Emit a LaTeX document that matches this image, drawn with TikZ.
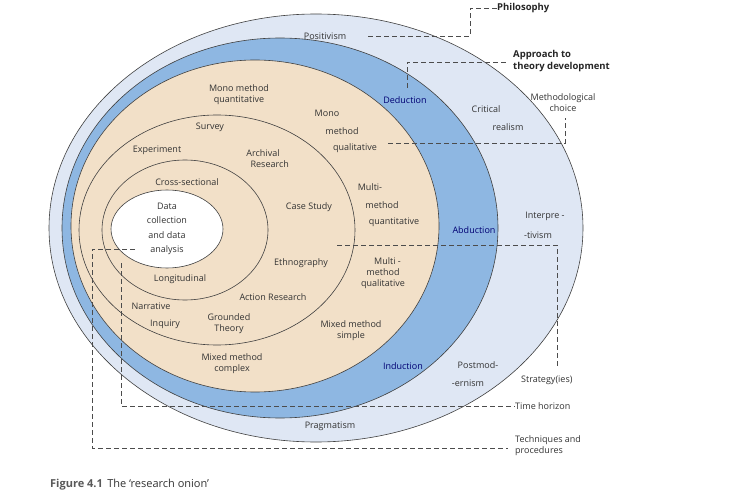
\documentclass[tikz,border=0pt]{standalone}
\usepackage{fontspec}
\setmainfont{Open Sans}
\begin{document}
\begin{tikzpicture}[x=1pt,y=-1pt,
  lbl/.style={font=\fontsize{9}{11}\selectfont, text=black!80, align=center, inner sep=0pt},
  blu/.style={lbl, text=blue!45!black},
  hd/.style={font=\bfseries\fontsize{9.5}{12}\selectfont, text=black!85, align=left, inner sep=0pt, anchor=west},
  side/.style={lbl, align=left, anchor=west},
  ring/.style={draw=black!75, line width=0.6pt},
  dl/.style={draw=black!70, dashed, dash pattern=on 5pt off 3pt, line width=0.6pt}]
\useasboundingbox (0,0) rectangle (753,500);
\definecolor{outerc}{HTML}{DFE7F4}
\definecolor{bluec}{HTML}{8EB7E2}
\definecolor{beigec}{HTML}{F2E0C8}
\fill[white] (0,0) rectangle (753,500);
\path[ring, fill=outerc] (316,228) ellipse [x radius=267, y radius=214];
\path[ring, fill=bluec] (280,228) ellipse [x radius=218, y radius=190];
\path[ring, fill=beigec] (255,226) ellipse [x radius=184, y radius=166];
\path[ring] (217,230) ellipse [x radius=138, y radius=115];
\path[ring] (185,230) ellipse [x radius=83, y radius=70];
\path[ring, fill=white] (167,229) ellipse [x radius=56, y radius=39];

% labels
\node[lbl] (pos) at (325,36) {Positivism};
\node[blu] (ded) at (405,100) {Deduction};
\node[lbl] (cr1) at (486,109) {Critical};
\node[lbl] (cr2) at (508,127) {realism};
\node[lbl] (mc) at (563,103) {Methodological\\choice};
\node[lbl] (mmq) at (239,95) {Mono method\\quantitative};
\node[lbl] (mq1) at (327,113) {Mono};
\node[lbl] (mq2) at (342,131) {method};
\node[lbl] (mq3) at (355,148) {qualitative};
\node[lbl] (sur) at (210,127) {Survey};
\node[lbl] (exp) at (157,150) {Experiment};
\node[lbl] (arc) at (263,159) {Archival\\\hspace*{1.5em}Research};
\node[lbl] (cs) at (187,182) {Cross-sectional};
\node[lbl, font=\fontsize{9}{14.3}\selectfont] (dc) at (167,229) {Data\\collection\\and data\\analysis};
\node[lbl] (case) at (309,207) {Case Study};
\node[lbl] (mqt1) at (370,187) {Multi-};
\node[lbl] (mqt2) at (382,205) {method};
\node[lbl] (mqt3) at (394,222) {quantitative};
\node[blu] (abd) at (474,230) {Abduction};
\node[lbl] (int1) at (545,216) {Interpre -};
\node[lbl] (int2) at (538,235) {-tivism};
\node[lbl] (eth) at (301,263) {Ethnography};
\node[lbl] (mql) at (383,273) {\hspace*{1em}Multi -\\method\\qualitative};
\node[lbl] (lon) at (180,279) {Longitudinal};
\node[lbl] (act) at (273,297) {Action Research};
\node[lbl] (nar1) at (151,306) {Narrative};
\node[lbl] (nar2) at (165,324) {Inquiry};
\node[lbl] (gt) at (229,324) {Grounded\\Theory};
\node[lbl] (mms) at (351,331) {Mixed method\\simple};
\node[lbl] (mmc) at (232,364) {Mixed method\\complex};
\node[blu] (ind) at (403,366) {Induction};
\node[lbl] (pm1) at (478,365) {Postmod-};
\node[lbl] (pm2) at (468,383) {-ernism};
\node[lbl] (prag) at (330,426) {Pragmatism};

% side labels
\node[hd] (phil) at (497,8) {Philosophy};
\node[hd] (appr) at (513,61) {Approach to\\theory development};
\node[side] (strat) at (521,380) {Strategy(ies)};
\node[side] (time) at (515,406) {Time horizon};
\node[side] (tech) at (515,446) {Techniques and\\procedures};

% dashed leaders
\coordinate (p1) at (368,36);
\draw[dl] (p1) -- (470,36) -- (470,8) -- (phil.west);
\coordinate (a1) at (407,88);
\draw[dl] (a1) -- (407,62) -- (508,62);
\coordinate (m1) at (388,143);
\draw[dl] (m1) -- (565,143) -- (565,118);
\coordinate (s1) at (337,245);
\draw[dl] (s1) -- (557,245) -- (557,368);
\coordinate (t1) at (121,263);
\draw[dl] (t1) -- (121,406) -- (time.west);
\coordinate (d1) at (135,249);
\draw[dl] (d1) -- (92,249) -- (92,448) -- (508,448);

% caption
\node[anchor=west, inner sep=0pt, font=\fontsize{11}{13}\selectfont] (cap) at (50,485)
  {\textcolor{black!65}{\bfseries Figure 4.1}\hspace{0.4em}\textcolor{black!80}{The ‘research onion’}};
\end{tikzpicture}
\end{document}
